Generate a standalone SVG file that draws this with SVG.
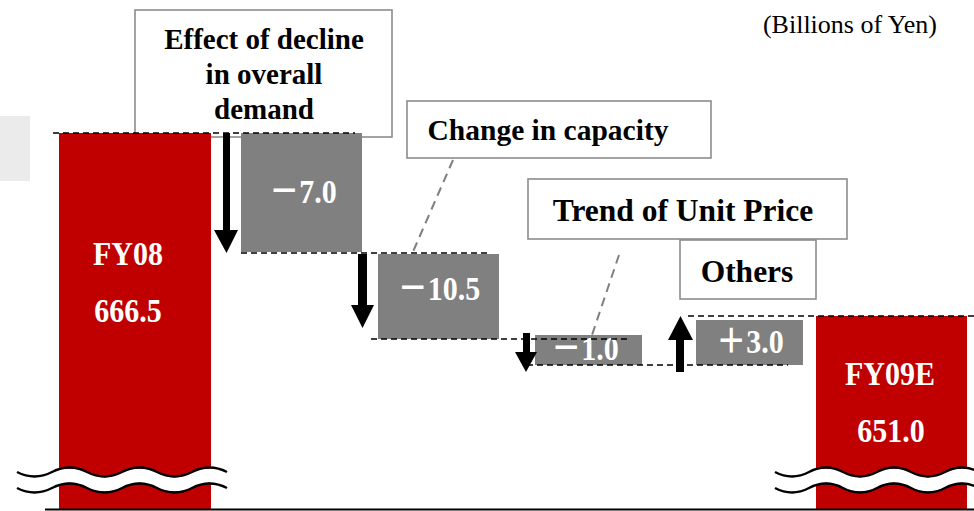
<svg xmlns="http://www.w3.org/2000/svg" width="974" height="511" viewBox="0 0 974 511">
<defs>
<style>
.lbl{fill:#fff;stroke:#8c8c8c;stroke-width:1.6}
.lt{font-family:"Liberation Serif","Times New Roman",serif;font-weight:bold;fill:#000;text-anchor:middle}
.bar{fill:#c00000}
.blk{fill:#808080}
.wt{font-family:"Liberation Serif","Times New Roman","Noto Sans CJK JP",serif;font-weight:bold;fill:#fff;text-anchor:middle}
.dash{stroke:#000;stroke-width:1.6;stroke-dasharray:6 4;fill:none}
.lead{stroke:#808080;stroke-width:2;stroke-dasharray:9 6;fill:none}
.wave{fill:none;stroke:#000;stroke-width:2.4}
.band{fill:none;stroke:#fff;stroke-width:14}
</style>
</defs>
<rect x="0" y="116" width="30" height="65" fill="#ebebeb"/>
<text x="850" y="33" font-family="'Liberation Serif','Times New Roman',serif" font-size="26" text-anchor="middle" fill="#000">(Billions of Yen)</text>

<g id="label-demand">
<rect class="lbl" x="135" y="10" width="257" height="127"/>
<text class="lt" font-size="29"><tspan x="264" y="49">Effect of decline</tspan><tspan x="264" y="84">in overall</tspan><tspan x="264" y="119">demand</tspan></text>
</g>
<g id="label-capacity">
<rect class="lbl" x="407" y="101" width="304" height="57"/>
<text class="lt" font-size="29.5" x="548" y="140">Change in capacity</text>
</g>
<g id="label-price">
<rect class="lbl" x="528" y="179" width="319" height="60"/>
<text class="lt" font-size="31.5" x="683" y="221">Trend of Unit Price</text>
</g>
<g id="label-others">
<rect class="lbl" x="680" y="240" width="136" height="59"/>
<text class="lt" font-size="31.5" x="747" y="282">Others</text>
</g>

<g id="bar-fy08">
<rect class="bar" x="59" y="133" width="152" height="377"/>
<text class="wt" font-size="30" transform="translate(128,265) scale(1,1.12)">FY08</text>
<text class="wt" font-size="30" transform="translate(128,322) scale(1,1.12)">666.5</text>
</g>
<g id="bar-fy09e">
<rect class="bar" x="816" y="316" width="151" height="194"/>
<text class="wt" font-size="30" transform="translate(890,385) scale(1,1.12)">FY09E</text>
<text class="wt" font-size="30" transform="translate(891,442) scale(1,1.12)">651.0</text>
</g>

<g id="step-demand">
<rect class="blk" x="241" y="133" width="121" height="119"/>
<text class="wt" font-size="30" transform="translate(303,203) scale(1,1.12)">－7.0</text>
</g>
<g id="step-capacity">
<rect class="blk" x="378" y="254" width="121" height="85"/>
<text class="wt" font-size="30" transform="translate(439,300) scale(1,1.12)">－10.5</text>
</g>
<g id="step-price">
<rect class="blk" x="535" y="335" width="107" height="30"/>
<text class="wt" font-size="30" transform="translate(585,360) scale(1,1.12)">－1.0</text>
</g>
<g id="step-others">
<rect class="blk" x="696" y="320" width="107" height="45"/>
<text class="wt" font-size="30" transform="translate(750,353) scale(1,1.12)">＋3.0</text>
</g>

<g id="connectors">
<path class="dash" d="M53,133H355M241,253H489M371,339H630M527,365H788M688,316H974"/>
<path class="lead" d="M453,160L412,254M619,255L592,335"/>
<path d="M223,133H230V230H238L226.5,253L214,230H223Z" fill="#000"/>
<path d="M358,254H367V305H374L362.5,328L351,305H358Z" fill="#000"/>
<path d="M523,333H530V352H537L526,372L515,352H523Z" fill="#000"/>
<path d="M676,372H684V340H693L680.5,316L668,340H676Z" fill="#000"/>
</g>

<g id="breaks">
<path class="band" d="M17,480q17.5,9 35,0t35,0t35,0t35,0t35,0t35,0"/>
<path class="wave" d="M17,472q17.5,9 35,0t35,0t35,0t35,0t35,0t35,0"/>
<path class="wave" d="M17,488q17.5,9 35,0t35,0t35,0t35,0t35,0t35,0"/>
<path class="band" d="M775,480q17,9 34,0t34,0t34,0t34,0t34,0t34,0"/>
<path class="wave" d="M775,472q17,9 34,0t34,0t34,0t34,0t34,0t34,0"/>
<path class="wave" d="M775,488q17,9 34,0t34,0t34,0t34,0t34,0t34,0"/>
</g>
<line x1="45" y1="509.5" x2="974" y2="509.5" stroke="#000" stroke-width="2"/>
</svg>
